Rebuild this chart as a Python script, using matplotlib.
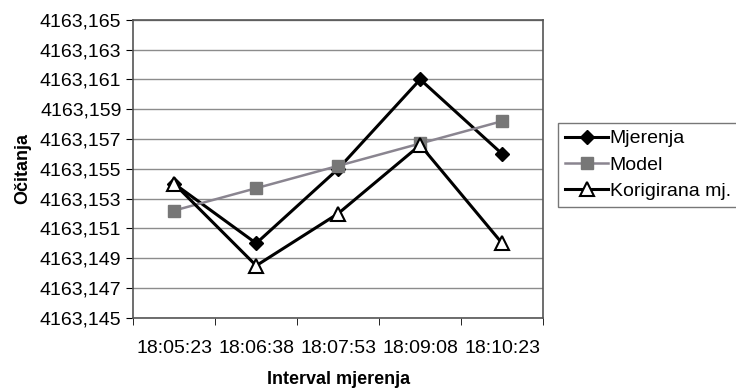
import matplotlib.pyplot as plt
import numpy as np

# vrijeme mjerenja i ocitanja
vremena = ["18:05:23", "18:06:38", "18:07:53", "18:09:08", "18:10:23"]
mjerenja = [4163.154, 4163.150, 4163.155, 4163.161, 4163.156]
model = [4163.1522, 4163.1537, 4163.1552, 4163.1567, 4163.1582]
korigirana = [4163.154, 4163.1485, 4163.152, 4163.1566, 4163.150]

y_ticks = [4163.145 + 0.002 * i for i in range(11)]

plt.rcParams["font.family"] = ["Liberation Sans", "DejaVu Sans"]

fig = plt.figure(figsize=(7.36, 3.89), dpi=100)
ax = fig.add_axes([0.181, 0.183, 0.557, 0.766])

x = np.arange(len(vremena))
ax.plot(x, mjerenja, color="black", linewidth=2.2, marker="D", markersize=7,
        markerfacecolor="black", label="Mjerenja", zorder=3)
ax.plot(x, model, color="#8a8590", linewidth=1.8, marker="s", markersize=9,
        markerfacecolor="#777777", markeredgecolor="#777777", label="Model", zorder=4)
ax.plot(x, korigirana, color="black", linewidth=2.2, marker="^", markersize=10,
        markerfacecolor="white", markeredgecolor="black", markeredgewidth=1.5,
        label="Korigirana mj.", zorder=5)

ax.set_xlim(-0.5, len(vremena) - 0.5)
ax.set_ylim(4163.145, 4163.165)
ax.set_yticks(y_ticks)
ax.set_yticklabels([f"{v:.3f}".replace(".", ",") for v in y_ticks])
ax.set_xticks(x)
ax.set_xticklabels(vremena)
ax.set_xticks(np.arange(-0.5, len(vremena)), minor=True)
ax.tick_params(axis="x", which="major", length=0, pad=16, labelsize=14)
ax.tick_params(axis="x", which="minor", length=5, direction="out")
ax.tick_params(axis="y", length=5, labelsize=14)

ax.yaxis.grid(True, color="#8c8c8c", linewidth=1.0)
ax.set_axisbelow(True)
for s in ax.spines.values():
    s.set_color("#555555")
    s.set_linewidth(1.2)

ax.set_xlabel("Interval mjerenja", fontsize=13, fontweight="bold", labelpad=10)
ax.set_ylabel("Očitanja", fontsize=13, fontweight="bold", labelpad=6)

leg = ax.legend(loc="upper left", bbox_to_anchor=(1.037, 0.654), fontsize=14,
                frameon=True, fancybox=False, edgecolor="#555555",
                handlelength=2.2, handletextpad=0.1, borderpad=0.35,
                labelspacing=0.45, borderaxespad=0)
leg.get_frame().set_linewidth(1.0)

fig.savefig("out.png", dpi=100)
